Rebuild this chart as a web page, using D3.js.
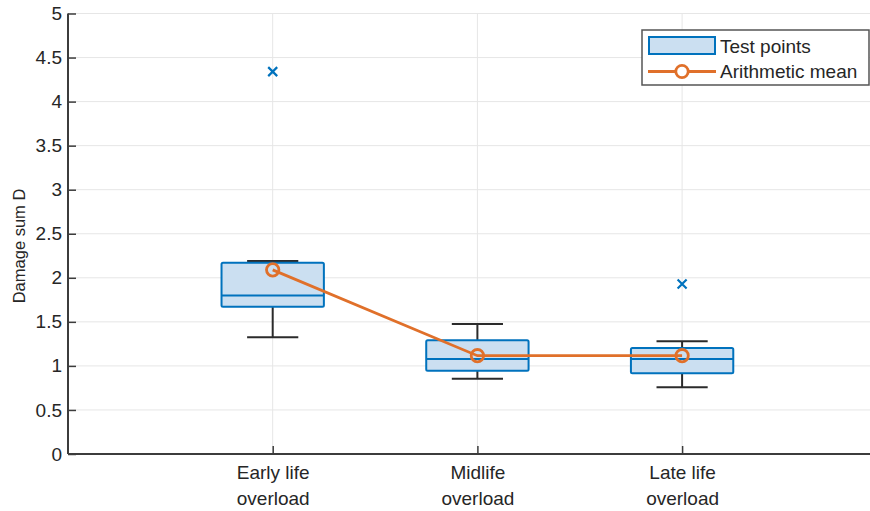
<!DOCTYPE html>
<html>
<head>
<meta charset="utf-8">
<script src="https://cdn.jsdelivr.net/npm/d3@7"></script>
<style>
  html, body { margin: 0; padding: 0; background: #fff; }
  svg { display: block; font-family: "Liberation Sans", Arial, sans-serif; }
</style>
</head>
<body>
<svg id="chart" width="870" height="511"></svg>
<script>
// Damage sum D per overload position: box statistics, outliers and means
const categories = [["Early life", "overload"], ["Midlife", "overload"], ["Late life", "overload"]];
const q1 = [1.67, 0.945, 0.916];
const medians = [1.80, 1.078, 1.078];
const q3 = [2.17, 1.29, 1.203];
const whiskerLow = [1.325, 0.855, 0.757];
const whiskerHigh = [2.19, 1.475, 1.28];
const outliers = [[4.34], [], [1.93]];
const means = [2.09, 1.116, 1.116];
const yTicks = [0, 0.5, 1, 1.5, 2, 2.5, 3, 3.5, 4, 4.5, 5];
const yTickLabels = ["0", "0.5", "1", "1.5", "2", "2.5", "3", "3.5", "4", "4.5", "5"];
const legendLabels = ["Test points", "Arithmetic mean"];
const yTitle = "Damage sum D";

const blue = "#0072BD", orange = "#E0702A", fillBlue = "#cbdff1";
const svg = d3.select("#chart");

const x = d3.scaleLinear().domain([0, 4]).range([68, 886.8]);
const y = d3.scaleLinear().domain([0, 5]).range([454, 13.5]);
const pos = categories.map((c, i) => i + 1);
const boxHalf = 0.25, capHalf = 0.125;

// grid
const grid = svg.append("g").attr("stroke", "#e6e6e6").attr("stroke-width", 1);
grid.selectAll("line.h").data(yTicks.slice(1)).join("line")
  .attr("x1", x(0)).attr("x2", 870).attr("y1", d => y(d)).attr("y2", d => y(d));
grid.selectAll("line.v").data(pos).join("line")
  .attr("x1", d => x(d)).attr("x2", d => x(d)).attr("y1", y(0)).attr("y2", y(5));

// whiskers
const wg = svg.append("g").attr("stroke", "#2b2b2b").attr("stroke-width", 2);
pos.forEach((p, i) => {
  wg.append("line").attr("x1", x(p)).attr("x2", x(p)).attr("y1", y(q3[i])).attr("y2", y(whiskerHigh[i]));
  wg.append("line").attr("x1", x(p)).attr("x2", x(p)).attr("y1", y(q1[i])).attr("y2", y(whiskerLow[i]));
  wg.append("line").attr("x1", x(p - capHalf)).attr("x2", x(p + capHalf)).attr("y1", y(whiskerHigh[i])).attr("y2", y(whiskerHigh[i]));
  wg.append("line").attr("x1", x(p - capHalf)).attr("x2", x(p + capHalf)).attr("y1", y(whiskerLow[i])).attr("y2", y(whiskerLow[i]));
});

// boxes and medians
const bg = svg.append("g");
bg.selectAll("rect").data(pos).join("rect")
  .attr("x", d => x(d - boxHalf)).attr("width", x(1 + boxHalf) - x(1 - boxHalf))
  .attr("y", (d, i) => y(q3[i])).attr("height", (d, i) => y(q1[i]) - y(q3[i]))
  .attr("rx", 1.5)
  .attr("fill", fillBlue).attr("stroke", blue).attr("stroke-width", 2);
bg.selectAll("line").data(pos).join("line")
  .attr("x1", d => x(d - boxHalf)).attr("x2", d => x(d + boxHalf))
  .attr("y1", (d, i) => y(medians[i])).attr("y2", (d, i) => y(medians[i]))
  .attr("stroke", blue).attr("stroke-width", 2);

// arithmetic mean line
svg.append("path")
  .attr("d", d3.line().x((d, i) => x(pos[i])).y(d => y(d))(means))
  .attr("fill", "none").attr("stroke", orange).attr("stroke-width", 2.8);
svg.append("g").selectAll("circle").data(means).join("circle")
  .attr("cx", (d, i) => x(pos[i])).attr("cy", d => y(d)).attr("r", 6.2)
  .attr("fill", "none").attr("stroke", orange).attr("stroke-width", 2.8);

// outliers
const og = svg.append("g").attr("stroke", blue).attr("stroke-width", 2.2);
outliers.forEach((arr, i) => arr.forEach(v => {
  const cx = x(pos[i]), cy = y(v), s = 4.5;
  og.append("path").attr("d", `M${cx - s},${cy - s}L${cx + s},${cy + s}M${cx - s},${cy + s}L${cx + s},${cy - s}`);
}));

// axes
const axisColor = "#3c3c3c";
const yAxis = svg.append("g").attr("transform", `translate(${x(0)},0)`)
  .call(d3.axisLeft(y).tickValues(yTicks).tickFormat((d, i) => yTickLabels[i]).tickSizeInner(-8).tickSizeOuter(0).tickPadding(6));
yAxis.select(".domain").attr("stroke", axisColor).attr("stroke-width", 2).attr("d", `M0,${y(0)}V${y(5)}`);
yAxis.selectAll(".tick line").attr("stroke", axisColor).attr("stroke-width", 1.5);
yAxis.selectAll(".tick text").attr("font-size", 19).attr("fill", "#262626").attr("font-family", "Liberation Sans, Arial, sans-serif");

const xAxis = svg.append("g").attr("transform", `translate(0,${y(0)})`)
  .call(d3.axisBottom(x).tickValues(pos).tickFormat("").tickSizeInner(-8).tickSizeOuter(0));
xAxis.select(".domain").attr("stroke", axisColor).attr("stroke-width", 2).attr("d", `M${x(0)},0H870`);
xAxis.selectAll(".tick line").attr("stroke", axisColor).attr("stroke-width", 1.5);
xAxis.selectAll(".tick").each(function (d, i) {
  const t = d3.select(this).append("text").attr("fill", "#262626").attr("font-size", 19).attr("text-anchor", "middle");
  categories[i].forEach((line, k) => t.append("tspan").attr("x", 0).attr("y", 25 + k * 26).text(line));
});

// y title
svg.append("text").attr("transform", `translate(25,246) rotate(-90)`)
  .attr("text-anchor", "middle").attr("font-size", 16.5).attr("fill", "#262626").text(yTitle);

// legend
const lg = svg.append("g");
lg.append("rect").attr("x", 642).attr("y", 30).attr("width", 227).attr("height", 55)
  .attr("fill", "#fff").attr("stroke", "#555").attr("stroke-width", 1.5);
lg.append("rect").attr("x", 649).attr("y", 37).attr("width", 66).attr("height", 17)
  .attr("fill", fillBlue).attr("stroke", blue).attr("stroke-width", 2);
lg.append("line").attr("x1", 648).attr("x2", 716).attr("y1", 71.5).attr("y2", 71.5)
  .attr("stroke", orange).attr("stroke-width", 2.8);
lg.append("circle").attr("cx", 682).attr("cy", 71.5).attr("r", 6.2)
  .attr("fill", "#fff").attr("stroke", orange).attr("stroke-width", 2.8);
lg.selectAll("text").data(legendLabels).join("text")
  .attr("x", 720).attr("y", (d, i) => 46 + i * 25.5).attr("dy", "0.35em")
  .attr("font-size", 19).attr("fill", "#262626").text(d => d);
</script>
</body>
</html>
